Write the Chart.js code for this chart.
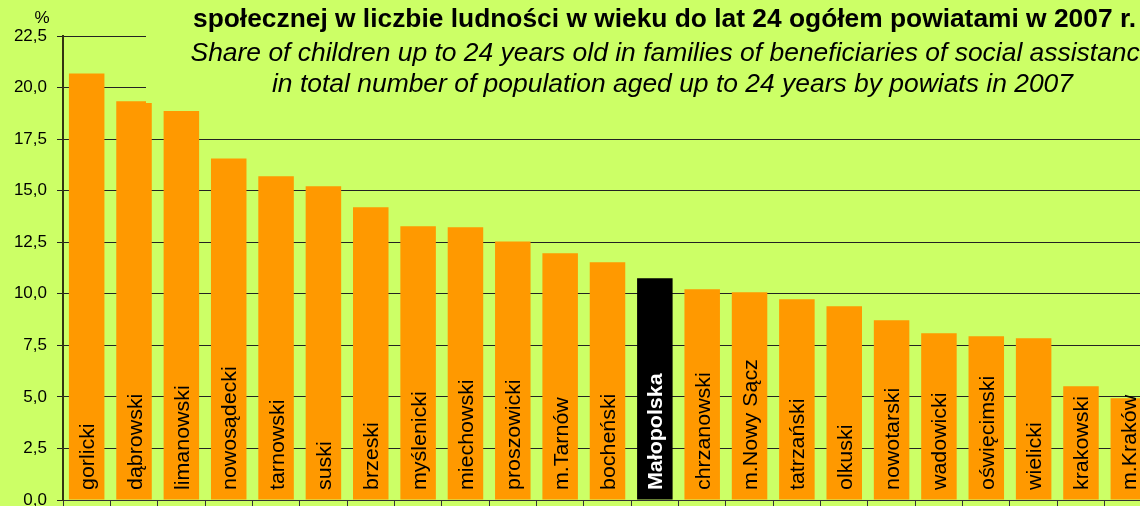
<!DOCTYPE html>
<html><head><meta charset="utf-8">
<script src="https://cdn.jsdelivr.net/npm/chart.js@4/dist/chart.umd.min.js"></script>
<style>
html,body{margin:0;padding:0;overflow:hidden;background:#CCFF66;width:1140px;height:506px}
canvas{display:block}
</style>
</head><body>
<canvas id="c" width="1152" height="506" style="width:1152px;height:506px"></canvas>
<script>
const categories = ['gorlicki','dąbrowski','limanowski','nowosądecki','tarnowski','suski','brzeski','myślenicki','miechowski','proszowicki','m.Tarnów','bocheński','Małopolska','chrzanowski','m.Nowy Sącz','tatrzański','olkuski','nowotarski','wadowicki','oświęcimski','wielicki','krakowski','m.Kraków'];
const values = [20.68,19.34,18.86,16.56,15.70,15.21,14.19,13.27,13.22,12.54,11.96,11.53,10.75,10.22,10.07,9.73,9.39,8.72,8.08,7.94,7.84,5.51,4.93];
const highlight = 'Małopolska';
const yMin = 0, yMax = 22.5, yStep = 2.5;
const unitLabel = '%';
const titleBold = 'społecznej w liczbie ludności w wieku do lat 24 ogółem powiatami w 2007 r.';
const titleEn1 = 'Share of children up to 24 years old in families of beneficiaries of social assistance';
const titleEn2 = 'in total number of population aged up to 24 years by powiats in 2007';

const BG = '#CCFF66', ORANGE = '#FF9900';
const FONT = '"Liberation Sans", Arial, sans-serif';

const fmt = v => Number(v).toFixed(1).replace('.', ',');

const overlay = {
  id: 'overlay',
  beforeDraw(chart) {
    const c = chart.ctx;
    c.save(); c.fillStyle = BG; c.fillRect(0, 0, chart.width, chart.height); c.restore();
  },
  afterDatasetsDraw(chart) {
    const c = chart.ctx, xs = chart.scales.x;
    categories.forEach((name, i) => {
      const x = xs.getPixelForValue(i) + 2;
      c.save();
      c.translate(x, 490);
      c.rotate(-Math.PI / 2);
      c.scale(1.07, 1);
      const hi = name === highlight;
      c.font = (hi ? 'bold ' : '') + '20px ' + FONT;
      c.fillStyle = hi ? '#FFFFFF' : '#000000';
      c.textAlign = 'left';
      c.textBaseline = 'middle';
      c.fillText(name, 0, 0);
      c.restore();
    });
    c.save();
    c.fillStyle = BG;
    c.fillRect(146, 0, chart.width - 146, 103);
    c.fillStyle = '#000';
    c.textBaseline = 'alphabetic';
    c.textAlign = 'left';
    c.font = 'bold 25px ' + FONT;
    let w = c.measureText(titleBold).width;
    let sx = (1136 - 193) / w;
    c.save(); c.translate(193, 27); c.scale(sx, 1); c.fillText(titleBold, 0, 0); c.restore();
    c.font = 'italic 25px ' + FONT;
    const w2 = c.measureText(titleEn2).width;
    const sxi = (1073 - 272) / w2;
    const cx = (1073 + 272) / 2;
    const w1 = c.measureText(titleEn1).width * sxi;
    c.save(); c.translate(cx - w1 / 2, 60.5); c.scale(sxi, 1); c.fillText(titleEn1, 0, 0); c.restore();
    c.save(); c.translate(272, 91.5); c.scale(sxi, 1); c.fillText(titleEn2, 0, 0); c.restore();
    c.font = '17px ' + FONT;
    c.textAlign = 'center';
    c.textBaseline = 'middle';
    c.fillText(unitLabel, 42, 18);
    c.restore();
  }
};

new Chart(document.getElementById('c'), {
  type: 'bar',
  data: {
    labels: categories,
    datasets: [{
      data: values,
      backgroundColor: categories.map(n => n === highlight ? '#000000' : ORANGE),
      borderWidth: 0,
      barPercentage: 0.75,
      categoryPercentage: 1.0
    }]
  },
  options: {
    responsive: false,
    animation: false,
    devicePixelRatio: 1,
    layout: { padding: { top: 36, left: 0, right: 0, bottom: 0 } },
    plugins: { legend: { display: false }, tooltip: { enabled: false }, title: { display: false } },
    scales: {
      x: {
        offset: true,
        grid: { display: true, drawOnChartArea: false, drawTicks: true, tickLength: 6, color: '#333', offset: true },
        border: { display: true, color: '#333', width: 1 },
        ticks: { display: false },
        afterFit: s => { s.height = 6; s.paddingLeft = 0; s.paddingRight = 0; }
      },
      y: {
        min: yMin, max: yMax,
        ticks: { stepSize: yStep, callback: v => fmt(v), color: '#000', font: { family: FONT, size: 17 }, padding: 10 },
        grid: { color: '#222', lineWidth: 1, tickLength: 6, drawTicks: true },
        border: { display: true, color: '#333311', width: 2 },
        afterFit: s => { s.width = 63; s.paddingTop = 0; s.paddingBottom = 0; }
      }
    }
  },
  plugins: [overlay]
});
</script>
</body></html>
